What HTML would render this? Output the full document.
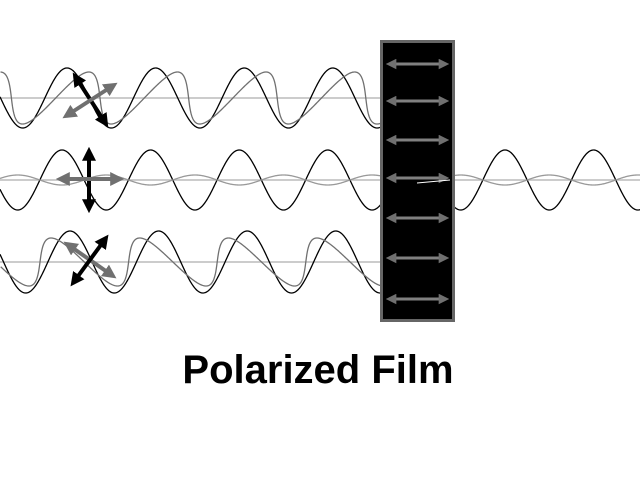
<!DOCTYPE html>
<html><head><meta charset="utf-8"><style>
html,body{margin:0;padding:0;background:#fff;width:640px;height:480px;overflow:hidden}
svg{display:block}
</style></head><body>
<svg id="s" width="640" height="480" viewBox="0 0 640 480" xmlns="http://www.w3.org/2000/svg">
<defs>
<marker id="ag" viewBox="0 0 10 10" refX="7" refY="5" markerWidth="3.5" markerHeight="3.5" orient="auto-start-reverse"><path d="M0,0 L10,5 L0,10 z" fill="#707070"/></marker>
<marker id="ak" viewBox="0 0 10 10" refX="7" refY="5" markerWidth="3.5" markerHeight="3.5" orient="auto-start-reverse"><path d="M0,0 L10,5 L0,10 z" fill="#000"/></marker>
</defs>
<g stroke="#bbb" stroke-width="1.5" fill="none">
<line x1="0" y1="98" x2="380" y2="98"/>
<line x1="0" y1="180" x2="640" y2="180"/>
<line x1="0" y1="262" x2="380" y2="262"/>
</g>
<g id="waves" fill="none"></g>
<rect x="381.5" y="41.5" width="72" height="279" fill="#000" stroke="#666" stroke-width="3"/>
<g stroke="#808080" stroke-width="3" marker-start="url(#ag)" marker-end="url(#ag)">
<line x1="389" y1="64" x2="446" y2="64"/>
<line x1="389" y1="101" x2="446" y2="101"/>
<line x1="389" y1="140" x2="446" y2="140"/>
<line x1="389" y1="178" x2="446" y2="178"/>
<line x1="389" y1="218" x2="446" y2="218"/>
<line x1="389" y1="258" x2="446" y2="258"/>
<line x1="389" y1="299" x2="446" y2="299"/>
</g>
<line x1="417" y1="183" x2="450" y2="180" stroke="#fff" stroke-width="1"/>
<g stroke-width="4">
<line x1="75" y1="76" x2="106" y2="124" stroke="#000" marker-start="url(#ak)" marker-end="url(#ak)"/>
<line x1="66" y1="116" x2="114" y2="85" stroke="#707070" marker-start="url(#ag)" marker-end="url(#ag)"/>
<line x1="89" y1="151" x2="89" y2="209" stroke="#000" marker-start="url(#ak)" marker-end="url(#ak)"/>
<line x1="60" y1="179" x2="120" y2="179" stroke="#707070" marker-start="url(#ag)" marker-end="url(#ag)"/>
<line x1="67" y1="244" x2="113" y2="276" stroke="#707070" marker-start="url(#ag)" marker-end="url(#ag)"/>
<line x1="73" y1="283" x2="106" y2="238" stroke="#000" marker-start="url(#ak)" marker-end="url(#ak)"/>
</g>
<text x="318" y="383" text-anchor="middle" font-family="Liberation Sans, sans-serif" font-weight="bold" font-size="40" fill="#000">Polarized Film</text>
</svg>
<script>
(function(){
var P=88.6,g=document.getElementById('waves'),ns='http://www.w3.org/2000/svg';
function add(fn,t0,t1,stroke,w,xmax){var d='';for(var t=t0;t<=t1;t+=0.5){var p=fn(t);if(p[0]<0||p[0]>xmax)continue;d+=(d?'L':'M')+p[0].toFixed(2)+','+p[1].toFixed(2);}
var e=document.createElementNS(ns,'path');e.setAttribute('d',d);e.setAttribute('stroke',stroke);e.setAttribute('stroke-width',w);g.appendChild(e);}
var k=2*Math.PI/P;
add(function(t){return [t,98-30*Math.cos(k*(t-67))]},0,380,'#000',1.3,381);
add(function(t){var th=k*(t-100)+Math.PI;return [t+11*Math.sin(th),98-26*Math.sin(th)]},-20,400,'#707070',1.3,381);
add(function(t){return [t,180-30*Math.cos(k*(t-62))]},0,640,'#000',1.3,640);
add(function(t){return [t,180+5*Math.cos(k*(t-62))]},0,640,'#999',1.3,640);
add(function(t){return [t,262-31*Math.cos(k*(t-70))]},0,380,'#000',1.3,381);
add(function(t){var th=k*(t-40);return [t-11*Math.sin(th),262-24*Math.sin(th)]},-20,400,'#707070',1.3,381);
})();
</script>
</body></html>
